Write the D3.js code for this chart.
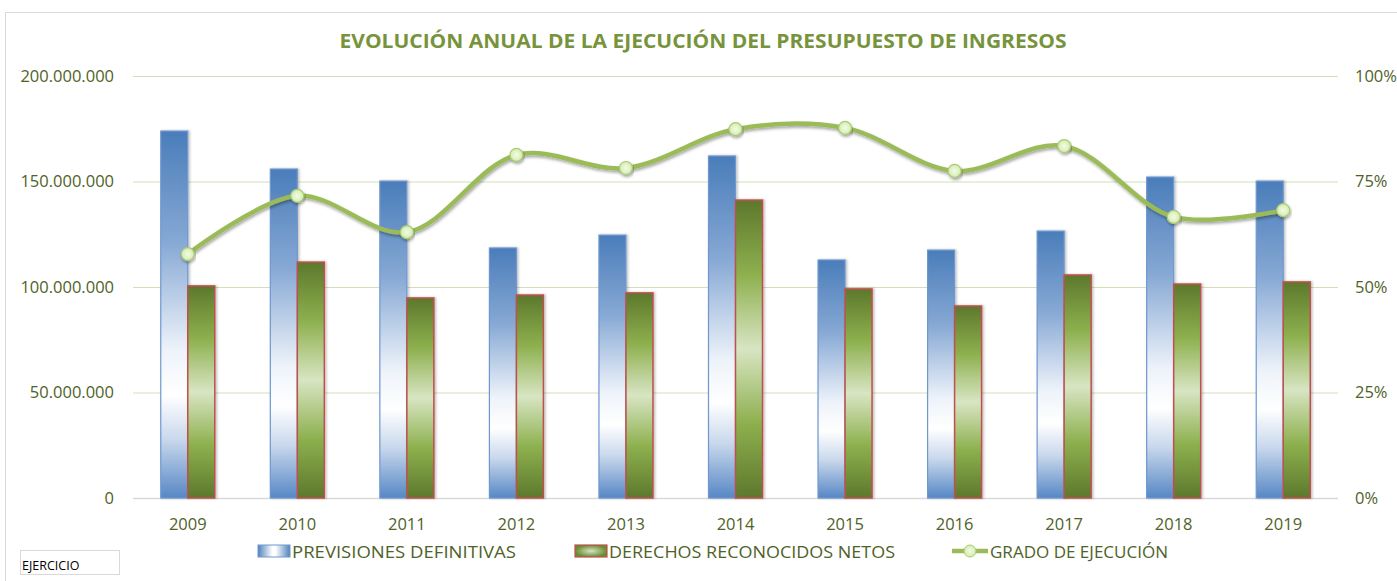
<!DOCTYPE html>
<html><head><meta charset="utf-8">
<script src="https://cdn.jsdelivr.net/npm/d3@7"></script>
<style>
html,body{margin:0;padding:0;background:#fff;}
svg{display:block;font-family:"Open Sans","Noto Sans",sans-serif;}
</style></head>
<body>
<svg id="c" width="1397" height="581"></svg>
<script>
const years = ["2009","2010","2011","2012","2013","2014","2015","2016","2017","2018","2019"];
const previsiones = [173.9,155.9,150.2,118.5,124.6,162.1,112.8,117.5,126.5,152.1,150.2].map(v=>v*1e6);
const derechos = [100.5,111.8,94.8,96.2,97.2,141.2,99.1,91.0,105.7,101.4,102.4].map(v=>v*1e6);
const grado = [57.8,71.6,63.0,81.3,78.2,87.4,87.7,77.5,83.4,66.6,68.2];
const leftTicks = [0,50e6,100e6,150e6,200e6];
const rightTicks = [0,25,50,75,100];
const seriesNames = ["PREVISIONES DEFINITIVAS","DERECHOS RECONOCIDOS NETOS","GRADO DE EJECUCIÓN"];
const title = "EVOLUCIÓN ANUAL DE LA EJECUCIÓN DEL PRESUPUESTO DE INGRESOS";

const svg = d3.select("#c");
const W=1397,H=581;
const plot = {l:133,r:1338,t:76,b:498};
const olive = "#4F6228";

// frame
svg.append("rect").attr("x",5.5).attr("y",12.5).attr("width",W+10).attr("height",H+10)
  .attr("fill","#fff").attr("stroke","#d9d9d9").attr("stroke-width",1);

const defs = svg.append("defs");
const gb = defs.append("linearGradient").attr("id","gBlue").attr("x1",0).attr("y1",0).attr("x2",0).attr("y2",1);
[[0,"#4a7dba"],[0.3,"#86a8d4"],[0.6,"#eef3fa"],[0.72,"#ffffff"],[0.84,"#c9d8ec"],[1,"#5687c5"]]
  .forEach(([o,c])=>gb.append("stop").attr("offset",o).attr("stop-color",c));
const gg = defs.append("linearGradient").attr("id","gGreen").attr("x1",0).attr("y1",0).attr("x2",0).attr("y2",1);
[[0,"#5d782c"],[0.25,"#8db04e"],[0.5,"#d8e5c3"],[0.75,"#8db04e"],[1,"#5d782c"]]
  .forEach(([o,c])=>gg.append("stop").attr("offset",o).attr("stop-color",c));
const gm = defs.append("radialGradient").attr("id","gMark");
[[0,"#f4fbe6"],[1,"#d3ecb0"]].forEach(([o,c])=>gm.append("stop").attr("offset",o).attr("stop-color",c));
const gbh = defs.append("linearGradient").attr("id","gBlueH").attr("x1",0).attr("y1",0).attr("x2",1).attr("y2",0);
[[0,"#4f81bd"],[0.45,"#ffffff"],[0.55,"#ffffff"],[1,"#4f81bd"]].forEach(([o,c])=>gbh.append("stop").attr("offset",o).attr("stop-color",c));
const ggh = defs.append("radialGradient").attr("id","gGreenH");
[[0,"#d8e5c3"],[1,"#6a8a33"]].forEach(([o,c])=>ggh.append("stop").attr("offset",o).attr("stop-color",c));
const sh = defs.append("filter").attr("id","shadow").attr("x","-10%").attr("y","-20%").attr("width","120%").attr("height","160%");
sh.append("feDropShadow").attr("dx",1).attr("dy",2).attr("stdDeviation",1.5).attr("flood-color","#000").attr("flood-opacity",0.35);
const shb = defs.append("filter").attr("id","shadowB").attr("x","-20%").attr("y","-5%").attr("width","150%").attr("height","110%");
shb.append("feDropShadow").attr("dx",1.5).attr("dy",0).attr("stdDeviation",1.2).attr("flood-color","#000").attr("flood-opacity",0.25);

// title
svg.append("text").attr("x",703).attr("y",48).attr("text-anchor","middle")
  .attr("font-size",20).attr("font-weight","bold").attr("fill","#77933C")
  .attr("textLength",727).attr("lengthAdjust","spacingAndGlyphs").text(title);

const x0 = d3.scaleBand().domain(years).range([plot.l,plot.r]).paddingInner(0.507).paddingOuter(0.2535);
const x1 = d3.scaleBand().domain([0,1]).range([0,x0.bandwidth()]);
const yL = d3.scaleLinear().domain([0,200e6]).range([plot.b,plot.t]);
const yR = d3.scaleLinear().domain([0,100]).range([plot.b,plot.t]);

const loc = d3.formatLocale({decimal:",",thousands:".",grouping:[3],currency:["","€"]});
const fmt = loc.format(",.0f");

// gridlines
const grid = svg.append("g").attr("transform",`translate(${plot.l},0)`)
  .call(d3.axisLeft(yL).tickValues(leftTicks).tickSize(-(plot.r-plot.l)).tickFormat(""));
grid.select(".domain").remove();
grid.selectAll(".tick line").attr("stroke",d=>d===0?"#d9d9d9":"#d2e0b8").attr("stroke-width",d=>d===0?1.5:1.2);

// left axis labels
const la = svg.append("g").attr("transform",`translate(${plot.l},0)`)
  .call(d3.axisLeft(yL).tickValues(leftTicks).tickSize(0).tickPadding(19).tickFormat(fmt));
la.select(".domain").remove();
la.selectAll("text").attr("font-size",16.5).attr("fill",olive).attr("font-family","'Open Sans',sans-serif");

// right axis labels
const ra = svg.append("g").attr("transform",`translate(${plot.r},0)`)
  .call(d3.axisRight(yR).tickValues(rightTicks).tickSize(0).tickPadding(17).tickFormat(d=>d+"%"));
ra.select(".domain").remove();
ra.selectAll("text").attr("font-size",16.5).attr("fill",olive).attr("font-family","'Open Sans',sans-serif");

// x axis labels
const xa = svg.append("g").attr("transform",`translate(0,${plot.b})`)
  .call(d3.axisBottom(x0).tickSize(0).tickPadding(20));
xa.select(".domain").remove();
xa.selectAll("text").attr("font-size",16.5).attr("fill",olive).attr("font-family","'Open Sans',sans-serif");

// bars
const gBars = svg.append("g");
gBars.selectAll("rect.prev").data(years).join("rect").attr("class","prev")
  .attr("x",(d)=>x0(d)+x1(0)).attr("width",x1.bandwidth())
  .attr("y",(d,i)=>yL(previsiones[i])).attr("height",(d,i)=>plot.b-yL(previsiones[i]))
  .attr("fill","url(#gBlue)").attr("stroke","#6f97cf").attr("stroke-width",1.2).attr("filter","url(#shadowB)");
gBars.selectAll("rect.der").data(years).join("rect").attr("class","der")
  .attr("x",(d)=>x0(d)+x1(1)).attr("width",x1.bandwidth())
  .attr("y",(d,i)=>yL(derechos[i])).attr("height",(d,i)=>plot.b-yL(derechos[i]))
  .attr("fill","url(#gGreen)").attr("stroke","#c0504d").attr("stroke-width",1.5).attr("filter","url(#shadowB)");

// line
const pts = years.map((d,i)=>[x0(d)+x0.bandwidth()/2, yR(grado[i])]);
svg.append("path").attr("d",d3.line().curve(d3.curveCatmullRom.alpha(0.5))(pts))
  .attr("fill","none").attr("stroke","#9BBB59").attr("stroke-width",4.5).attr("filter","url(#shadow)");
svg.selectAll("circle.m").data(pts).join("circle").attr("class","m")
  .attr("cx",d=>d[0]).attr("cy",d=>d[1]).attr("r",6.5)
  .attr("fill","url(#gMark)").attr("stroke","#a9cc72").attr("stroke-width",1.2).attr("filter","url(#shadow)");

// legend
const lg = svg.append("g");
lg.append("rect").attr("x",258).attr("y",545).attr("width",32).attr("height",12)
  .attr("fill","url(#gBlueH)").attr("stroke","#6f97cf");
lg.append("text").attr("x",292).attr("y",558).attr("font-size",17).attr("fill",olive)
  .attr("textLength",224).attr("lengthAdjust","spacingAndGlyphs").text(seriesNames[0]);
lg.append("rect").attr("x",575).attr("y",545).attr("width",32).attr("height",12)
  .attr("fill","url(#gGreenH)").attr("stroke","#c0504d").attr("stroke-width",1.2);
lg.append("text").attr("x",609).attr("y",558).attr("font-size",17).attr("fill",olive)
  .attr("textLength",286).attr("lengthAdjust","spacingAndGlyphs").text(seriesNames[1]);
lg.append("line").attr("x1",952).attr("x2",988).attr("y1",551).attr("y2",551)
  .attr("stroke","#9BBB59").attr("stroke-width",4.5);
lg.append("circle").attr("cx",970).attr("cy",551).attr("r",6).attr("fill","url(#gMark)").attr("stroke","#a9cc72");
lg.append("text").attr("x",990).attr("y",558).attr("font-size",17).attr("fill",olive)
  .attr("textLength",178).attr("lengthAdjust","spacingAndGlyphs").text(seriesNames[2]);

// EJERCICIO box
svg.append("rect").attr("x",20.5).attr("y",550.5).attr("width",99).attr("height",24)
  .attr("fill","#fff").attr("stroke","#d9d9d9");
svg.append("text").attr("x",22).attr("y",570).attr("font-size",12.5).attr("fill","#000")
  .attr("font-family","'Liberation Sans Narrow','Open Sans',sans-serif").text("EJERCICIO");
</script>
</body></html>
